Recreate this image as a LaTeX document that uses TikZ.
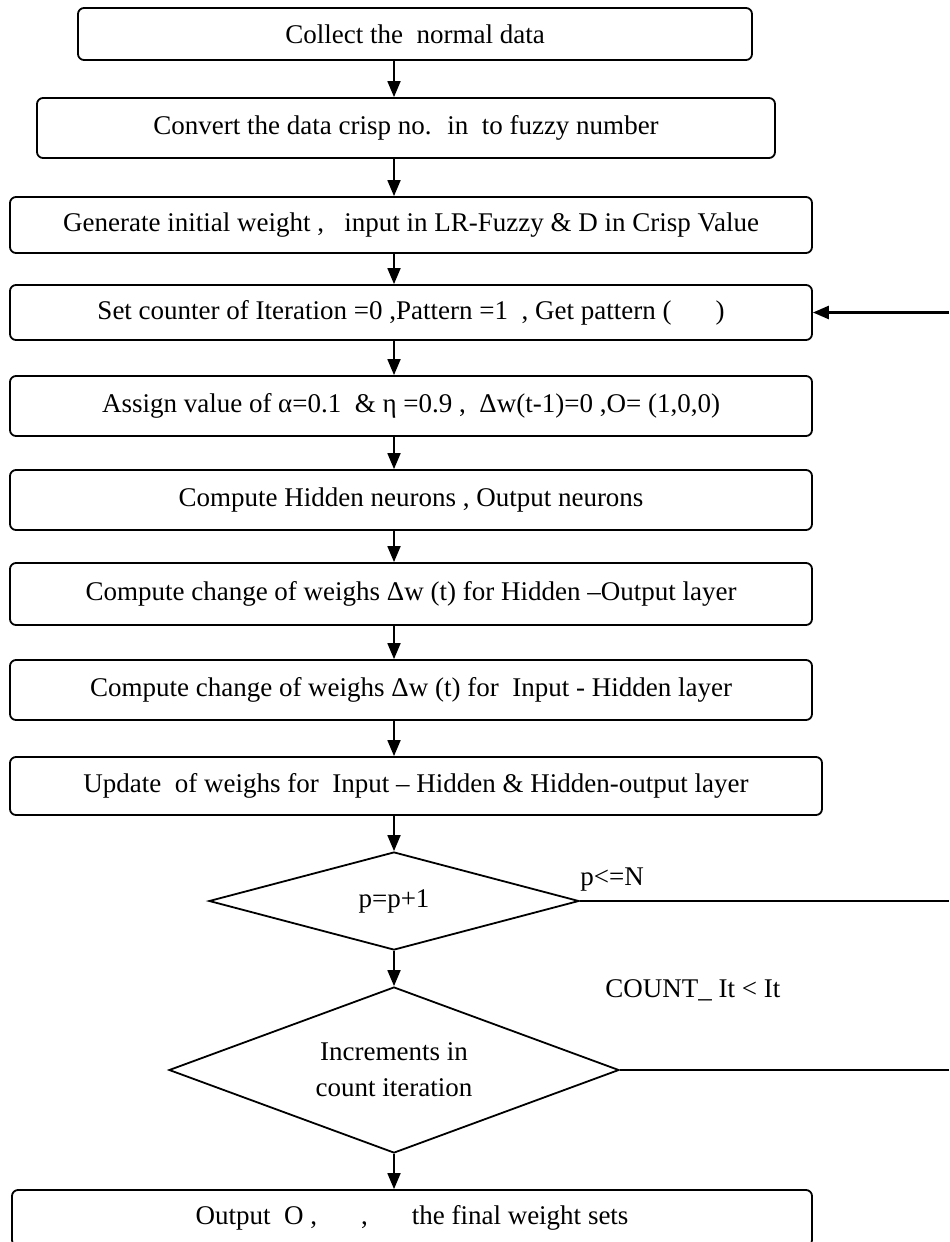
\documentclass[tikz,border=0pt]{standalone}
\usepackage{fontspec}
\setmainfont{Liberation Serif}
\usetikzlibrary{shapes.geometric,arrows.meta}

\begin{document}
\begin{tikzpicture}[
    x=0.5pt, y=-0.5pt,
    every node/.style={font=\fontsize{13.5}{17}\selectfont},
    process/.style={rectangle, rounded corners=3pt, draw, line width=0.9pt,
                    minimum width=401pt, minimum height=29pt, inner sep=0pt},
    decision/.style={diamond, draw, line width=0.9pt, inner sep=0pt, align=center},
    flow/.style={-{Triangle[length=8pt, width=6.5pt]}, line width=0.9pt},
    back/.style={line width=0.9pt}
]
    \useasboundingbox (0,0) rectangle (949,1242);
    \clip (0,0) rectangle (949,1242);

    % axis of the flow and right edge
    \coordinate (axis) at (394,0);
    \coordinate (redge) at (949,0);

    % Steps
    \node[process, minimum width=337pt, minimum height=26pt] (collect) at (415,34) {Collect the~ normal data};
    \node[process, minimum width=369pt, minimum height=30pt] (convert) at (406,128) {Convert the data crisp no.~ in~ to fuzzy number};
    \node[process, minimum height=28pt] (generate) at (411,225) {Generate initial weight ,~~ input in LR-Fuzzy \& D in Crisp Value};
    \node[process, minimum height=27.5pt] (counter) at (411,312.5) {Set counter of Iteration =0 ,Pattern =1~ , Get pattern (\hspace{22pt})};
    \node[process, minimum height=30pt] (assign) at (411,406) {Assign value of α=0.1~ \& η =0.9 ,~ Δw(t-1)=0 ,O= (1,0,0)};
    \node[process, minimum height=30pt] (hidden) at (411,500) {Compute Hidden neurons , Output neurons};
    \node[process, minimum height=31pt] (changeho) at (411,594) {Compute change of weighs Δw (t) for Hidden –Output layer};
    \node[process, minimum height=30pt] (changeih) at (411,690) {Compute change of weighs Δw (t) for~ Input - Hidden layer};
    \node[process, minimum width=406pt, minimum height=29pt] (update) at (416,786) {Update~ of weighs for~ Input – Hidden \& Hidden-output layer};

    % Tests
    \node[decision, minimum width=185pt, minimum height=49pt, aspect=3.8] (pattern) at (394,901) {p=p+1};
    \node[decision, minimum width=225pt, minimum height=83pt, aspect=2.7] (iteration) at (394,1070) {Increments in\\[1pt]count iteration};

    % Result
    \node[process, minimum width=400pt, minimum height=28pt] (output) at (412,1218) {Output~ O ,\hspace{22pt},\hspace{22pt}the final weight sets};

    % Labels
    \node[anchor=base west, inner sep=0pt] (lblp) at (580,885) {p<=N};
    \node[anchor=base west, inner sep=0pt] (lblc) at (605,997) {COUNT\_ It < It};

    % Arrows
    \draw[flow] (collect.south -| axis) -- (convert.north -| axis);
    \draw[flow] (convert.south -| axis) -- (generate.north -| axis);
    \draw[flow] (generate.south -| axis) -- (counter.north -| axis);
    \draw[flow] (counter.south -| axis) -- (assign.north -| axis);
    \draw[flow] (assign.south -| axis) -- (hidden.north -| axis);
    \draw[flow] (hidden.south -| axis) -- (changeho.north -| axis);
    \draw[flow] (changeho.south -| axis) -- (changeih.north -| axis);
    \draw[flow] (changeih.south -| axis) -- (update.north -| axis);
    \draw[flow] (update.south -| axis) -- (pattern.north);
    \draw[flow] (pattern.south) -- (iteration.north);
    \draw[flow] (iteration.south) -- (output.north -| axis);

    % Loops to the right
    \draw[back] (pattern.east) -- (pattern.east -| redge);
    \draw[back] (iteration.east) -- (iteration.east -| redge);
    \draw[flow, line width=1.3pt] (counter.east -| redge) -- (counter.east);
\end{tikzpicture}
\end{document}
